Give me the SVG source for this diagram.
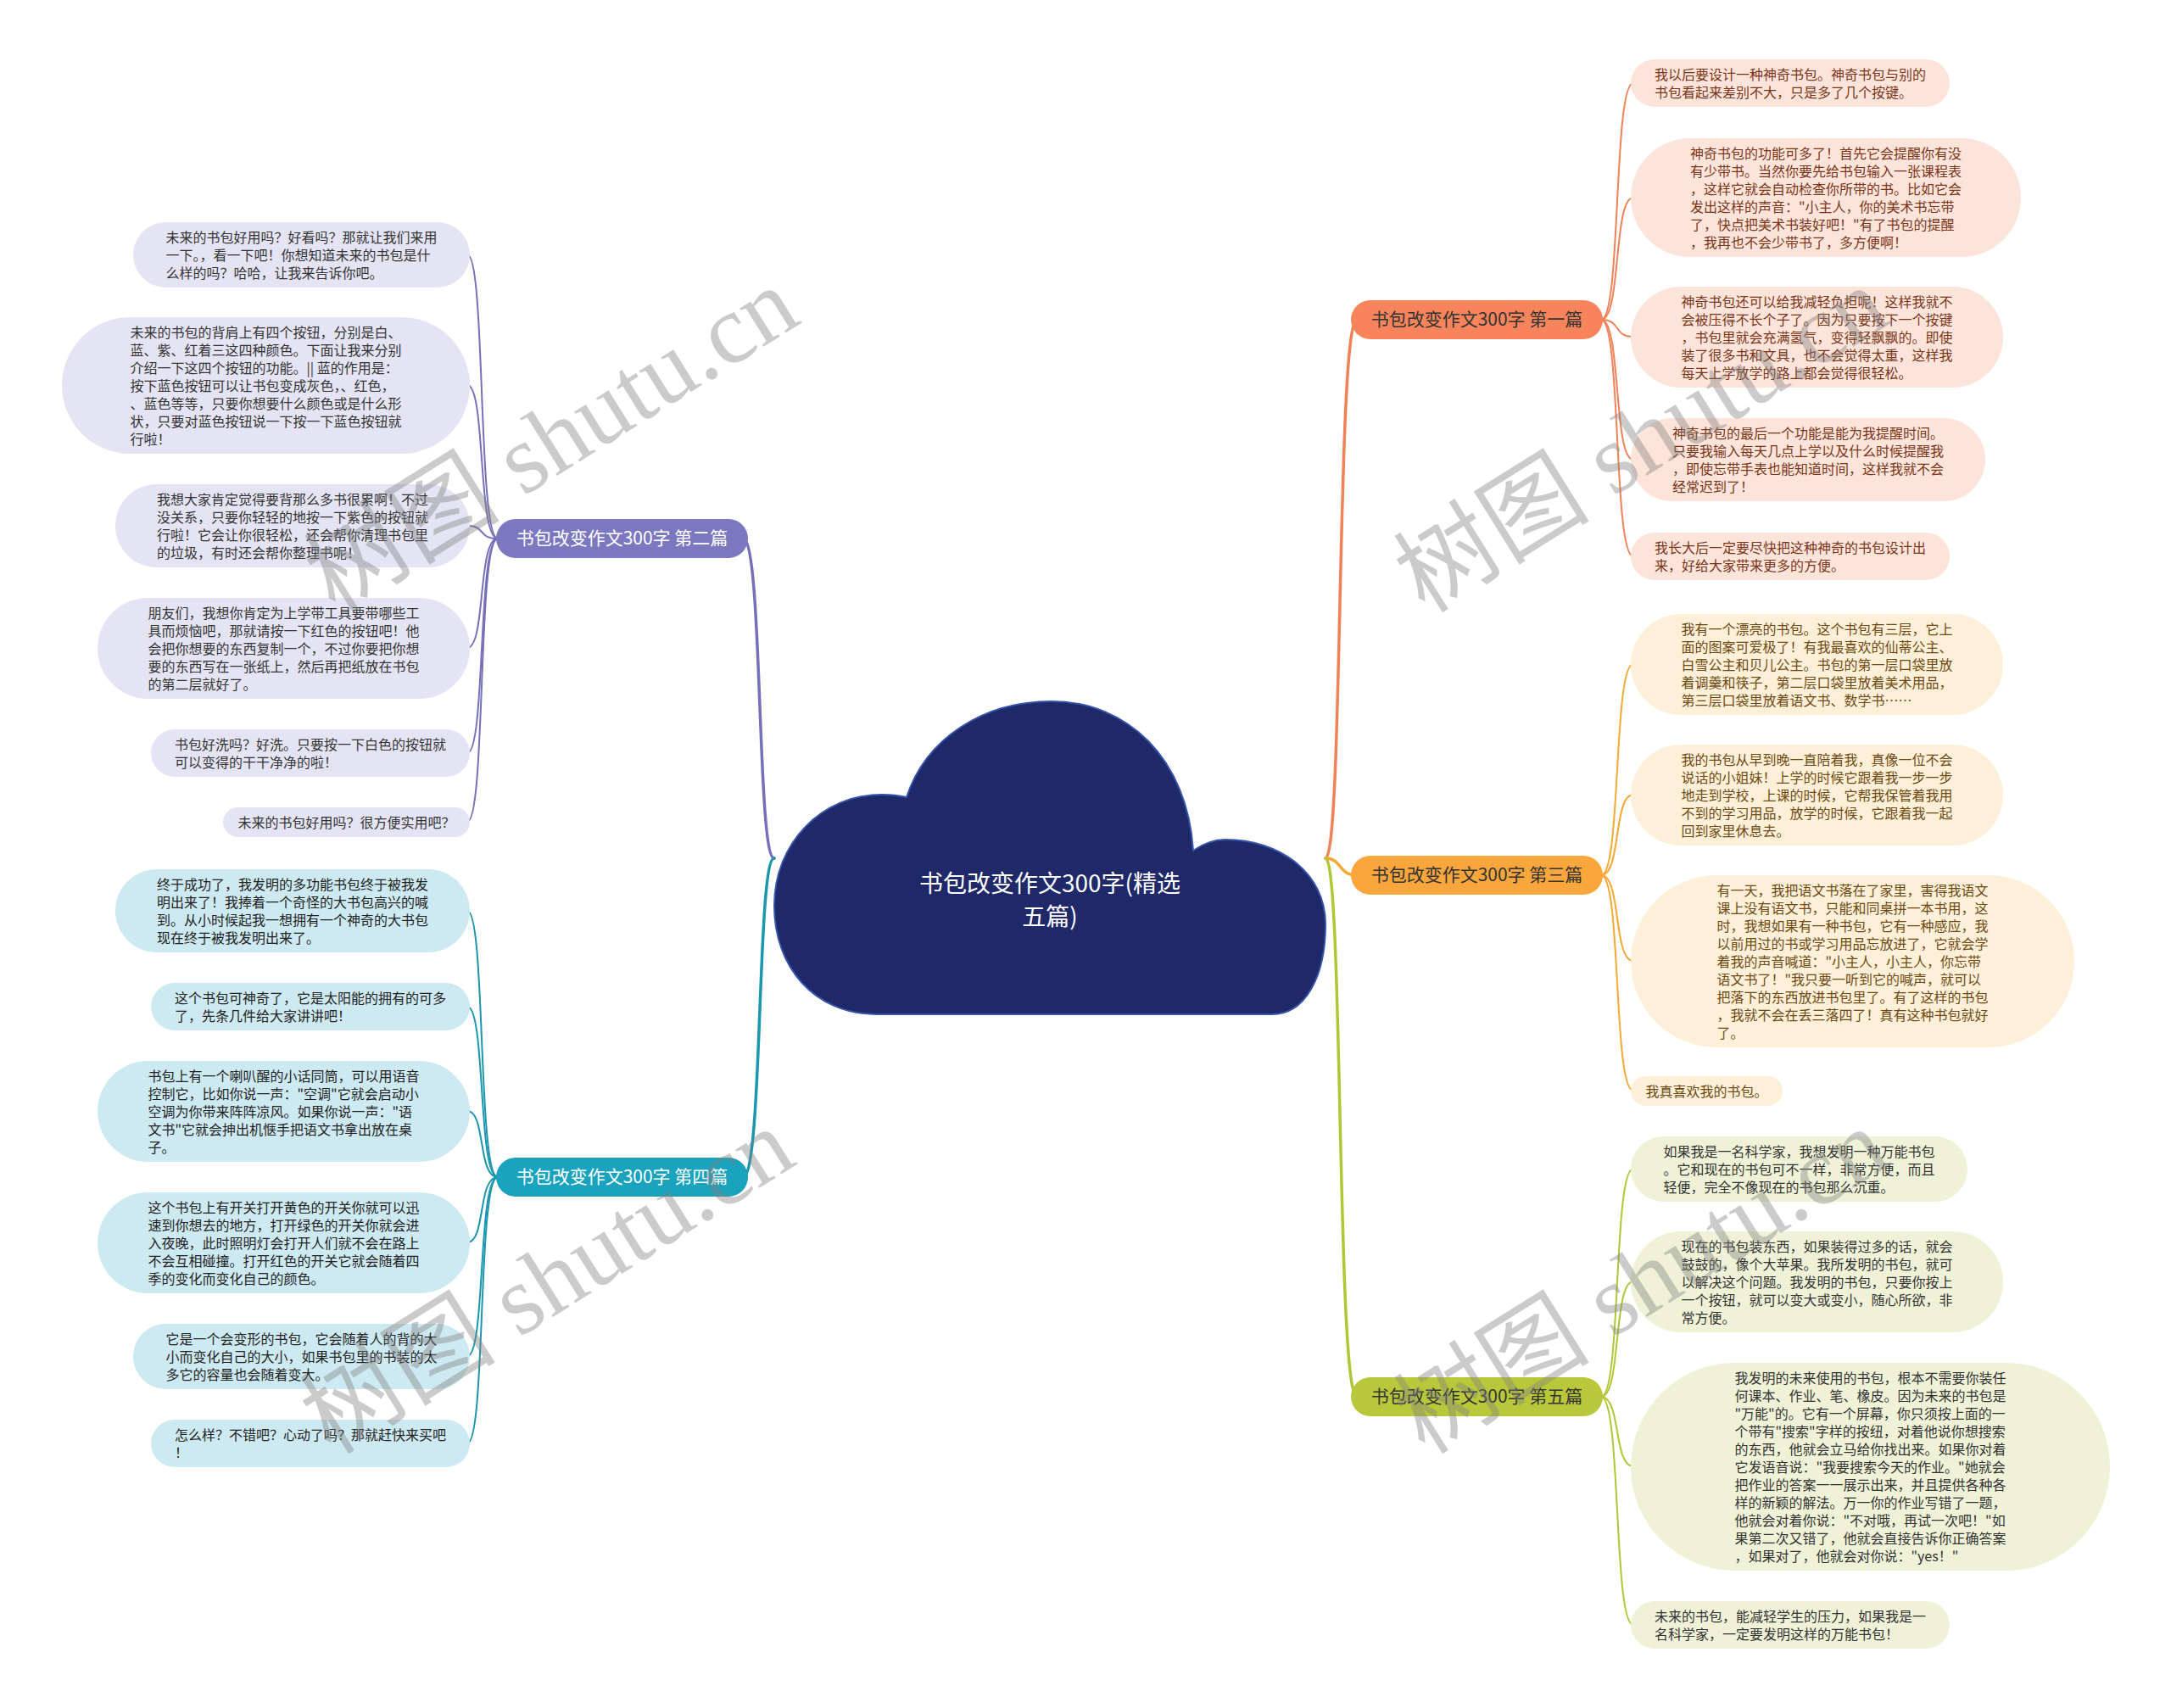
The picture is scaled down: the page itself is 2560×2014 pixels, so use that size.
<svg xmlns="http://www.w3.org/2000/svg" width="2560" height="2014" viewBox="0 0 2560 2014">
<defs>
<style>
text { font-family: "Noto Sans CJK SC", "Noto Sans", sans-serif; }
.lf { font-size: 16px; }
.bt { font-size: 21px; text-anchor: middle; }
.ct { font-size: 28px; text-anchor: middle; fill: #ffffff; }
.main { fill: none; stroke-width: 3.5; stroke-linecap: round; }
.leaf { fill: none; stroke-width: 2; stroke-linecap: round; }
.k1 { stroke: #f08258; } .k2 { stroke: #7670b8; } .k3 { stroke: #f5a833; } .k4 { stroke: #1c96ad; } .k5 { stroke: #b2c635; }
.f1 { fill: #fde4da; } .f2 { fill: #e4e4f4; } .f3 { fill: #fdefd8; } .f4 { fill: #cde9f1; } .f5 { fill: #eff2d6; }
.t1 { fill: #7a3418; } .t2 { fill: #333333; } .t3 { fill: #6e4a12; } .t4 { fill: #222222; } .t5 { fill: #333333; }
.wm { font-family: "Liberation Serif", "Noto Sans CJK SC", serif; font-size: 116px; fill: #808080; opacity: 0.4; text-anchor: middle; }
</style>
</defs>
<rect width="2560" height="2014" fill="#ffffff"/>

<g id="connectors">
  <path class="main k1" d="M1563,1012 C1584,1012 1576,377 1600,377"/>
  <path class="main k3" d="M1563,1012 C1582,1012 1578,1032 1600,1032"/>
  <path class="main k5" d="M1563,1012 C1584,1012 1576,1647 1600,1647"/>
  <path class="main k2" d="M913,1012 C892,1012 900,635 876,635"/>
  <path class="main k4" d="M913,1012 C892,1012 900,1388 876,1388"/>

  <path class="leaf k1" d="M1888,377 C1912,377 1902,98 1926,98"/>
  <path class="leaf k1" d="M1888,377 C1912,377 1902,233 1926,233"/>
  <path class="leaf k1" d="M1888,377 C1912,377 1902,397 1926,397"/>
  <path class="leaf k1" d="M1888,377 C1912,377 1902,542 1926,542"/>
  <path class="leaf k1" d="M1888,377 C1912,377 1902,656 1926,656"/>

  <path class="leaf k3" d="M1888,1032 C1912,1032 1902,783 1926,783"/>
  <path class="leaf k3" d="M1888,1032 C1912,1032 1902,937 1926,937"/>
  <path class="leaf k3" d="M1888,1032 C1912,1032 1902,1133 1926,1133"/>
  <path class="leaf k3" d="M1888,1032 C1912,1032 1902,1286 1926,1286"/>

  <path class="leaf k5" d="M1888,1647 C1912,1647 1902,1378 1926,1378"/>
  <path class="leaf k5" d="M1888,1647 C1912,1647 1902,1511 1926,1511"/>
  <path class="leaf k5" d="M1888,1647 C1912,1647 1902,1729 1926,1729"/>
  <path class="leaf k5" d="M1888,1647 C1912,1647 1902,1916 1926,1916"/>

  <path class="leaf k2" d="M587,635 C563,635 573,300 551,300"/>
  <path class="leaf k2" d="M587,635 C563,635 573,454 551,454"/>
  <path class="leaf k2" d="M587,635 C563,635 573,620 551,620"/>
  <path class="leaf k2" d="M587,635 C563,635 573,764 551,764"/>
  <path class="leaf k2" d="M587,635 C563,635 573,888 551,888"/>
  <path class="leaf k2" d="M587,635 C563,635 573,969 551,969"/>

  <path class="leaf k4" d="M587,1388 C563,1388 573,1074 551,1074"/>
  <path class="leaf k4" d="M587,1388 C563,1388 573,1187 551,1187"/>
  <path class="leaf k4" d="M587,1388 C563,1388 573,1310 551,1310"/>
  <path class="leaf k4" d="M587,1388 C563,1388 573,1465 551,1465"/>
  <path class="leaf k4" d="M587,1388 C563,1388 573,1599 551,1599"/>
  <path class="leaf k4" d="M587,1388 C563,1388 573,1702 551,1702"/>
</g>

<g id="center">
  <path d="M1034,1196 C960,1196 913,1140 913,1068 C913,995 968,937 1040,937 C1050,937 1060,938 1069,940 C1092,870 1160,827 1240,827 C1330,827 1400,895 1407,1003 C1420,994 1432,990 1445,990 C1510,990 1563,1030 1563,1090 C1563,1150 1540,1196 1500,1196 Z" fill="#1f2868" stroke="#3553a8" stroke-width="2"/>
  <text class="ct" x="1238" y="1052">书包改变作文300字(精选</text>
  <text class="ct" x="1238" y="1091">五篇)</text>
</g>

<g id="b1"><rect x="1593" y="354" width="297" height="46" rx="23" fill="#f7845a"/><text class="bt" x="1741.5" y="384" fill="#333333">书包改变作文300字 第一篇</text></g>
<g id="b2"><rect x="585" y="612" width="297" height="46" rx="23" fill="#7b78c0"/><text class="bt" x="733.5" y="642" fill="#ffffff">书包改变作文300字 第二篇</text></g>
<g id="b3"><rect x="1593" y="1009" width="297" height="46" rx="23" fill="#f9a63c"/><text class="bt" x="1741.5" y="1039" fill="#333333">书包改变作文300字 第三篇</text></g>
<g id="b4"><rect x="585" y="1365" width="297" height="46" rx="23" fill="#1aa3bd"/><text class="bt" x="733.5" y="1395" fill="#ffffff">书包改变作文300字 第四篇</text></g>
<g id="b5"><rect x="1593" y="1624" width="297" height="46" rx="23" fill="#b9c83a"/><text class="bt" x="1741.5" y="1654" fill="#333333">书包改变作文300字 第五篇</text></g>

<g id="l1-1"><rect class="f1" x="1923" y="70" width="376" height="56" rx="28"/><text class="lf t1"><tspan x="1951" y="94">我以后要设计一种神奇书包。神奇书包与别的</tspan><tspan x="1951" y="115">书包看起来差别不大，只是多了几个按键。</tspan></text></g>
<g id="l1-2"><rect class="f1" x="1923" y="163" width="460" height="140" rx="70"/><text class="lf t1"><tspan x="1993" y="187">神奇书包的功能可多了！首先它会提醒你有没</tspan><tspan x="1993" y="208">有少带书。当然你要先给书包输入一张课程表</tspan><tspan x="1993" y="229">，这样它就会自动检查你所带的书。比如它会</tspan><tspan x="1993" y="250">发出这样的声音："小主人，你的美术书忘带</tspan><tspan x="1993" y="271">了，快点把美术书装好吧！"有了书包的提醒</tspan><tspan x="1993" y="292">，我再也不会少带书了，多方便啊！</tspan></text></g>
<g id="l1-3"><rect class="f1" x="1923" y="338" width="439" height="119" rx="59.5"/><text class="lf t1"><tspan x="1982.5" y="362">神奇书包还可以给我减轻负担呢！这样我就不</tspan><tspan x="1982.5" y="383">会被压得不长个子了。因为只要按下一个按键</tspan><tspan x="1982.5" y="404">，书包里就会充满氢气，变得轻飘飘的。即使</tspan><tspan x="1982.5" y="425">装了很多书和文具，也不会觉得太重，这样我</tspan><tspan x="1982.5" y="446">每天上学放学的路上都会觉得很轻松。</tspan></text></g>
<g id="l1-4"><rect class="f1" x="1923" y="493" width="418" height="98" rx="49"/><text class="lf t1"><tspan x="1972" y="517">神奇书包的最后一个功能是能为我提醒时间。</tspan><tspan x="1972" y="538">只要我输入每天几点上学以及什么时候提醒我</tspan><tspan x="1972" y="559">，即使忘带手表也能知道时间，这样我就不会</tspan><tspan x="1972" y="580">经常迟到了！</tspan></text></g>
<g id="l1-5"><rect class="f1" x="1923" y="628" width="376" height="56" rx="28"/><text class="lf t1"><tspan x="1951" y="652">我长大后一定要尽快把这种神奇的书包设计出</tspan><tspan x="1951" y="673">来，好给大家带来更多的方便。</tspan></text></g>

<g id="l3-1"><rect class="f3" x="1923" y="724" width="439" height="119" rx="59.5"/><text class="lf t3"><tspan x="1982.5" y="748">我有一个漂亮的书包。这个书包有三层，它上</tspan><tspan x="1982.5" y="769">面的图案可爱极了！有我最喜欢的仙蒂公主、</tspan><tspan x="1982.5" y="790">白雪公主和贝儿公主。书包的第一层口袋里放</tspan><tspan x="1982.5" y="811">着调羹和筷子，第二层口袋里放着美术用品，</tspan><tspan x="1982.5" y="832">第三层口袋里放着语文书、数学书……</tspan></text></g>
<g id="l3-2"><rect class="f3" x="1923" y="878" width="439" height="119" rx="59.5"/><text class="lf t3"><tspan x="1982.5" y="902">我的书包从早到晚一直陪着我，真像一位不会</tspan><tspan x="1982.5" y="923">说话的小姐妹！上学的时候它跟着我一步一步</tspan><tspan x="1982.5" y="944">地走到学校，上课的时候，它帮我保管着我用</tspan><tspan x="1982.5" y="965">不到的学习用品，放学的时候，它跟着我一起</tspan><tspan x="1982.5" y="986">回到家里休息去。</tspan></text></g>
<g id="l3-3"><rect class="f3" x="1923" y="1032" width="523" height="203" rx="101.5"/><text class="lf t3"><tspan x="2024.5" y="1056">有一天，我把语文书落在了家里，害得我语文</tspan><tspan x="2024.5" y="1077">课上没有语文书，只能和同桌拼一本书用，这</tspan><tspan x="2024.5" y="1098">时，我想如果有一种书包，它有一种感应，我</tspan><tspan x="2024.5" y="1119">以前用过的书或学习用品忘放进了，它就会学</tspan><tspan x="2024.5" y="1140">着我的声音喊道："小主人，小主人，你忘带</tspan><tspan x="2024.5" y="1161">语文书了！"我只要一听到它的喊声，就可以</tspan><tspan x="2024.5" y="1182">把落下的东西放进书包里了。有了这样的书包</tspan><tspan x="2024.5" y="1203">，我就不会在丢三落四了！真有这种书包就好</tspan><tspan x="2024.5" y="1224">了。</tspan></text></g>
<g id="l3-4"><rect class="f3" x="1923" y="1269" width="179" height="35" rx="17.5"/><text class="lf t3"><tspan x="1940.5" y="1293">我真喜欢我的书包。</tspan></text></g>

<g id="l5-1"><rect class="f5" x="1923" y="1340" width="397" height="77" rx="38.5"/><text class="lf t5"><tspan x="1961.5" y="1364">如果我是一名科学家，我想发明一种万能书包</tspan><tspan x="1961.5" y="1385">。它和现在的书包可不一样，非常方便，而且</tspan><tspan x="1961.5" y="1406">轻便，完全不像现在的书包那么沉重。</tspan></text></g>
<g id="l5-2"><rect class="f5" x="1923" y="1452" width="439" height="119" rx="59.5"/><text class="lf t5"><tspan x="1982.5" y="1476">现在的书包装东西，如果装得过多的话，就会</tspan><tspan x="1982.5" y="1497">鼓鼓的，像个大苹果。我所发明的书包，就可</tspan><tspan x="1982.5" y="1518">以解决这个问题。我发明的书包，只要你按上</tspan><tspan x="1982.5" y="1539">一个按钮，就可以变大或变小，随心所欲，非</tspan><tspan x="1982.5" y="1560">常方便。</tspan></text></g>
<g id="l5-3"><rect class="f5" x="1923" y="1607" width="565" height="245" rx="122.5"/><text class="lf t5"><tspan x="2045.5" y="1631">我发明的未来使用的书包，根本不需要你装任</tspan><tspan x="2045.5" y="1652">何课本、作业、笔、橡皮。因为未来的书包是</tspan><tspan x="2045.5" y="1673">"万能"的。它有一个屏幕，你只须按上面的一</tspan><tspan x="2045.5" y="1694">个带有"搜索"字样的按纽，对着他说你想搜索</tspan><tspan x="2045.5" y="1715">的东西，他就会立马给你找出来。如果你对着</tspan><tspan x="2045.5" y="1736">它发语音说："我要搜索今天的作业。"她就会</tspan><tspan x="2045.5" y="1757">把作业的答案一一展示出来，并且提供各种各</tspan><tspan x="2045.5" y="1778">样的新颖的解法。万一你的作业写错了一题，</tspan><tspan x="2045.5" y="1799">他就会对着你说："不对哦，再试一次吧！"如</tspan><tspan x="2045.5" y="1820">果第二次又错了，他就会直接告诉你正确答案</tspan><tspan x="2045.5" y="1841">，如果对了，他就会对你说："yes！"</tspan></text></g>
<g id="l5-4"><rect class="f5" x="1923" y="1888" width="376" height="56" rx="28"/><text class="lf t5"><tspan x="1951" y="1912">未来的书包，能减轻学生的压力，如果我是一</tspan><tspan x="1951" y="1933">名科学家，一定要发明这样的万能书包！</tspan></text></g>

<g id="l2-1"><rect class="f2" x="157" y="262" width="397" height="77" rx="38.5"/><text class="lf t2"><tspan x="195.5" y="286">未来的书包好用吗？好看吗？那就让我们来用</tspan><tspan x="195.5" y="307">一下。，看一下吧！你想知道未来的书包是什</tspan><tspan x="195.5" y="328">么样的吗？哈哈，让我来告诉你吧。</tspan></text></g>
<g id="l2-2"><rect class="f2" x="73" y="374" width="481" height="161" rx="80.5"/><text class="lf t2"><tspan x="153.5" y="398">未来的书包的背肩上有四个按钮，分别是白、</tspan><tspan x="153.5" y="419">蓝、紫、红着三这四种颜色。下面让我来分别</tspan><tspan x="153.5" y="440">介绍一下这四个按钮的功能。|| 蓝的作用是：</tspan><tspan x="153.5" y="461">按下蓝色按钮可以让书包变成灰色，、红色，</tspan><tspan x="153.5" y="482">、蓝色等等，只要你想要什么颜色或是什么形</tspan><tspan x="153.5" y="503">状，只要对蓝色按钮说一下按一下蓝色按钮就</tspan><tspan x="153.5" y="524">行啦！</tspan></text></g>
<g id="l2-3"><rect class="f2" x="136" y="571" width="418" height="98" rx="49"/><text class="lf t2"><tspan x="185" y="595">我想大家肯定觉得要背那么多书很累啊！不过</tspan><tspan x="185" y="616">没关系，只要你轻轻的地按一下紫色的按钮就</tspan><tspan x="185" y="637">行啦！它会让你很轻松，还会帮你清理书包里</tspan><tspan x="185" y="658">的垃圾，有时还会帮你整理书呢！</tspan></text></g>
<g id="l2-4"><rect class="f2" x="115" y="705" width="439" height="119" rx="59.5"/><text class="lf t2"><tspan x="174.5" y="729">朋友们，我想你肯定为上学带工具要带哪些工</tspan><tspan x="174.5" y="750">具而烦恼吧，那就请按一下红色的按钮吧！他</tspan><tspan x="174.5" y="771">会把你想要的东西复制一个，不过你要把你想</tspan><tspan x="174.5" y="792">要的东西写在一张纸上，然后再把纸放在书包</tspan><tspan x="174.5" y="813">的第二层就好了。</tspan></text></g>
<g id="l2-5"><rect class="f2" x="178" y="860" width="376" height="56" rx="28"/><text class="lf t2"><tspan x="206" y="884">书包好洗吗？好洗。只要按一下白色的按钮就</tspan><tspan x="206" y="905">可以变得的干干净净的啦！</tspan></text></g>
<g id="l2-6"><rect class="f2" x="263" y="952" width="291" height="35" rx="17.5"/><text class="lf t2"><tspan x="280.5" y="976">未来的书包好用吗？很方便实用吧？</tspan></text></g>

<g id="l4-1"><rect class="f4" x="136" y="1025" width="418" height="98" rx="49"/><text class="lf t4"><tspan x="185" y="1049">终于成功了，我发明的多功能书包终于被我发</tspan><tspan x="185" y="1070">明出来了！我捧着一个奇怪的大书包高兴的喊</tspan><tspan x="185" y="1091">到。从小时候起我一想拥有一个神奇的大书包</tspan><tspan x="185" y="1112">现在终于被我发明出来了。</tspan></text></g>
<g id="l4-2"><rect class="f4" x="178" y="1159" width="376" height="56" rx="28"/><text class="lf t4"><tspan x="206" y="1183">这个书包可神奇了，它是太阳能的拥有的可多</tspan><tspan x="206" y="1204">了，先条几件给大家讲讲吧！</tspan></text></g>
<g id="l4-3"><rect class="f4" x="115" y="1251" width="439" height="119" rx="59.5"/><text class="lf t4"><tspan x="174.5" y="1275">书包上有一个喇叭醒的小话同筒，可以用语音</tspan><tspan x="174.5" y="1296">控制它，比如你说一声："空调"它就会启动小</tspan><tspan x="174.5" y="1317">空调为你带来阵阵凉风。如果你说一声："语</tspan><tspan x="174.5" y="1338">文书"它就会抻出机惬手把语文书拿出放在桌</tspan><tspan x="174.5" y="1359">子。</tspan></text></g>
<g id="l4-4"><rect class="f4" x="115" y="1406" width="439" height="119" rx="59.5"/><text class="lf t4"><tspan x="174.5" y="1430">这个书包上有开关打开黄色的开关你就可以迅</tspan><tspan x="174.5" y="1451">速到你想去的地方，打开绿色的开关你就会进</tspan><tspan x="174.5" y="1472">入夜晚，此时照明灯会打开人们就不会在路上</tspan><tspan x="174.5" y="1493">不会互相碰撞。打开红色的开关它就会随着四</tspan><tspan x="174.5" y="1514">季的变化而变化自己的颜色。</tspan></text></g>
<g id="l4-5"><rect class="f4" x="157" y="1561" width="397" height="77" rx="38.5"/><text class="lf t4"><tspan x="195.5" y="1585">它是一个会变形的书包，它会随着人的背的大</tspan><tspan x="195.5" y="1606">小而变化自己的大小，如果书包里的书装的太</tspan><tspan x="195.5" y="1627">多它的容量也会随着变大。</tspan></text></g>
<g id="l4-6"><rect class="f4" x="178" y="1674" width="376" height="56" rx="28"/><text class="lf t4"><tspan x="206" y="1698">怎么样？不错吧？心动了吗？那就赶快来买吧</tspan><tspan x="206" y="1719">！</tspan></text></g>

<g id="watermarks">
  <text class="wm" x="650" y="558" transform="rotate(-32 650 518)">树图 shutu.cn</text>
  <text class="wm" x="1935" y="558" transform="rotate(-32 1935 518)">树图 shutu.cn</text>
  <text class="wm" x="645" y="1550" transform="rotate(-32 645 1510)">树图 shutu.cn</text>
  <text class="wm" x="1935" y="1550" transform="rotate(-32 1935 1510)">树图 shutu.cn</text>
</g>
</svg>
